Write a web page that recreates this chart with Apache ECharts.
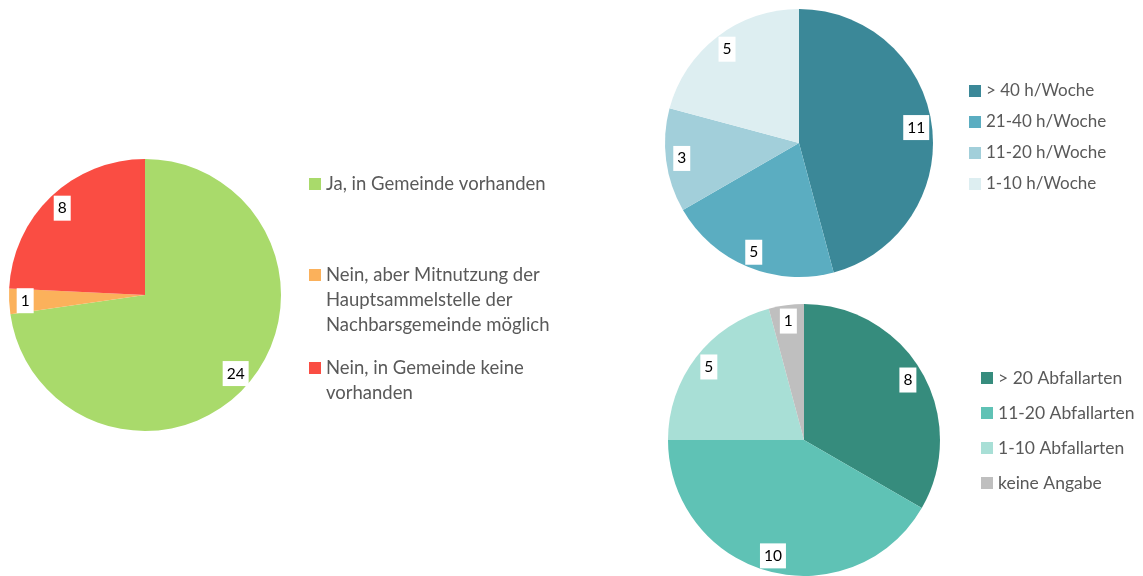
<!DOCTYPE html>
<html>
<head>
<meta charset="utf-8">
<script src="https://cdn.jsdelivr.net/npm/echarts@6/dist/echarts.min.js"></script>
<style>
  html, body { margin: 0; padding: 0; background: #fff; }
  #chart { width: 1143px; height: 576px; }
</style>
</head>
<body>
<div id="chart"></div>
<script>
// Sammelstelle vorhanden?
const sammelNames = [
    "Ja, in Gemeinde vorhanden",
    "Nein, aber Mitnutzung der\nHauptsammelstelle der\nNachbarsgemeinde möglich",
    "Nein, in Gemeinde keine\nvorhanden"
];
const sammelValues = [24, 1, 8];
const sammelColors = ["#A9DA6B", "#FBB15B", "#FA4D43"];

// Öffnungszeiten
const stundenNames = ["> 40 h/Woche", "21-40 h/Woche", "11-20 h/Woche", "1-10 h/Woche"];
const stundenValues = [11, 5, 3, 5];
const stundenColors = ["#3B8898", "#5BADC1", "#A2CFDA", "#DDEEF1"];

// Abfallarten
const artenNames = ["> 20 Abfallarten", "11-20 Abfallarten", "1-10 Abfallarten", "keine Angabe"];
const artenValues = [8, 10, 5, 1];
const artenColors = ["#368C7D", "#5FC2B5", "#A8DFD6", "#BFBFBF"];

const FONT = "Lato";

// visible pie + transparent ring that carries the labels at ~0.86 r
function makePie(names, values, colors, center, r) {
    const data = names.map((n, i) => ({ name: n, value: values[i], itemStyle: { color: colors[i] } }));
    const ringData = names.map((n, i) => ({ name: n, value: values[i], itemStyle: { color: "rgba(0,0,0,0)" } }));
    return [
        {
            type: "pie",
            center: center,
            radius: [0, r],
            startAngle: 90,
            clockwise: true,
            label: { show: false },
            labelLine: { show: false },
            emphasis: { disabled: true },
            data: data,
        },
        {
            type: "pie",
            center: center,
            radius: [r * 0.72, r],
            startAngle: 90,
            clockwise: true,
            silent: true,
            emphasis: { disabled: true },
            label: {
                show: true,
                position: "inside",
                formatter: "{c}",
                color: "#000",
                fontFamily: FONT,
                fontSize: 15.5,
                lineHeight: 17,
                backgroundColor: "#fff",
                padding: [4, 4, 4, 4],
            },
            labelLine: { show: false },
            data: ringData,
        },
    ];
}

function makeLegend(names, left, top, gap, fontSize, lineHeight, formatter) {
    return {
        orient: "vertical",
        left: left,
        top: top,
        padding: 0,
        itemGap: gap,
        itemWidth: 12,
        itemHeight: 12,
        icon: "rect",
        selectedMode: false,
        data: names,
        formatter: formatter || "{name}",
        textStyle: {
            color: "#595959",
            fontFamily: FONT,
            fontSize: fontSize,
            lineHeight: lineHeight,
        },
    };
}

const chart = echarts.init(document.getElementById("chart"));

chart.setOption({
    animation: false,
    backgroundColor: "#fff",
    legend: [
        makeLegend([sammelNames[0]], 309, 171.5, 0, 18.5, 25),
        // leading blank lines keep the icon on the first text line
        makeLegend([sammelNames[1]], 309, 212.5, 0, 18.5, 25, n => "\n\n" + n),
        makeLegend([sammelNames[2]], 309, 330.5, 0, 18.5, 25, n => "\n" + n),
        makeLegend(stundenNames, 969, 81, 11, 17, 20),
        makeLegend(artenNames, 981, 368, 15, 17.5, 20),
    ],
    series: [
        ...makePie(sammelNames, sammelValues, sammelColors, [145, 295], 136),
        ...makePie(stundenNames, stundenValues, stundenColors, [799, 143], 134),
        ...makePie(artenNames, artenValues, artenColors, [804, 440], 136),
    ],
});
</script>
</body>
</html>
